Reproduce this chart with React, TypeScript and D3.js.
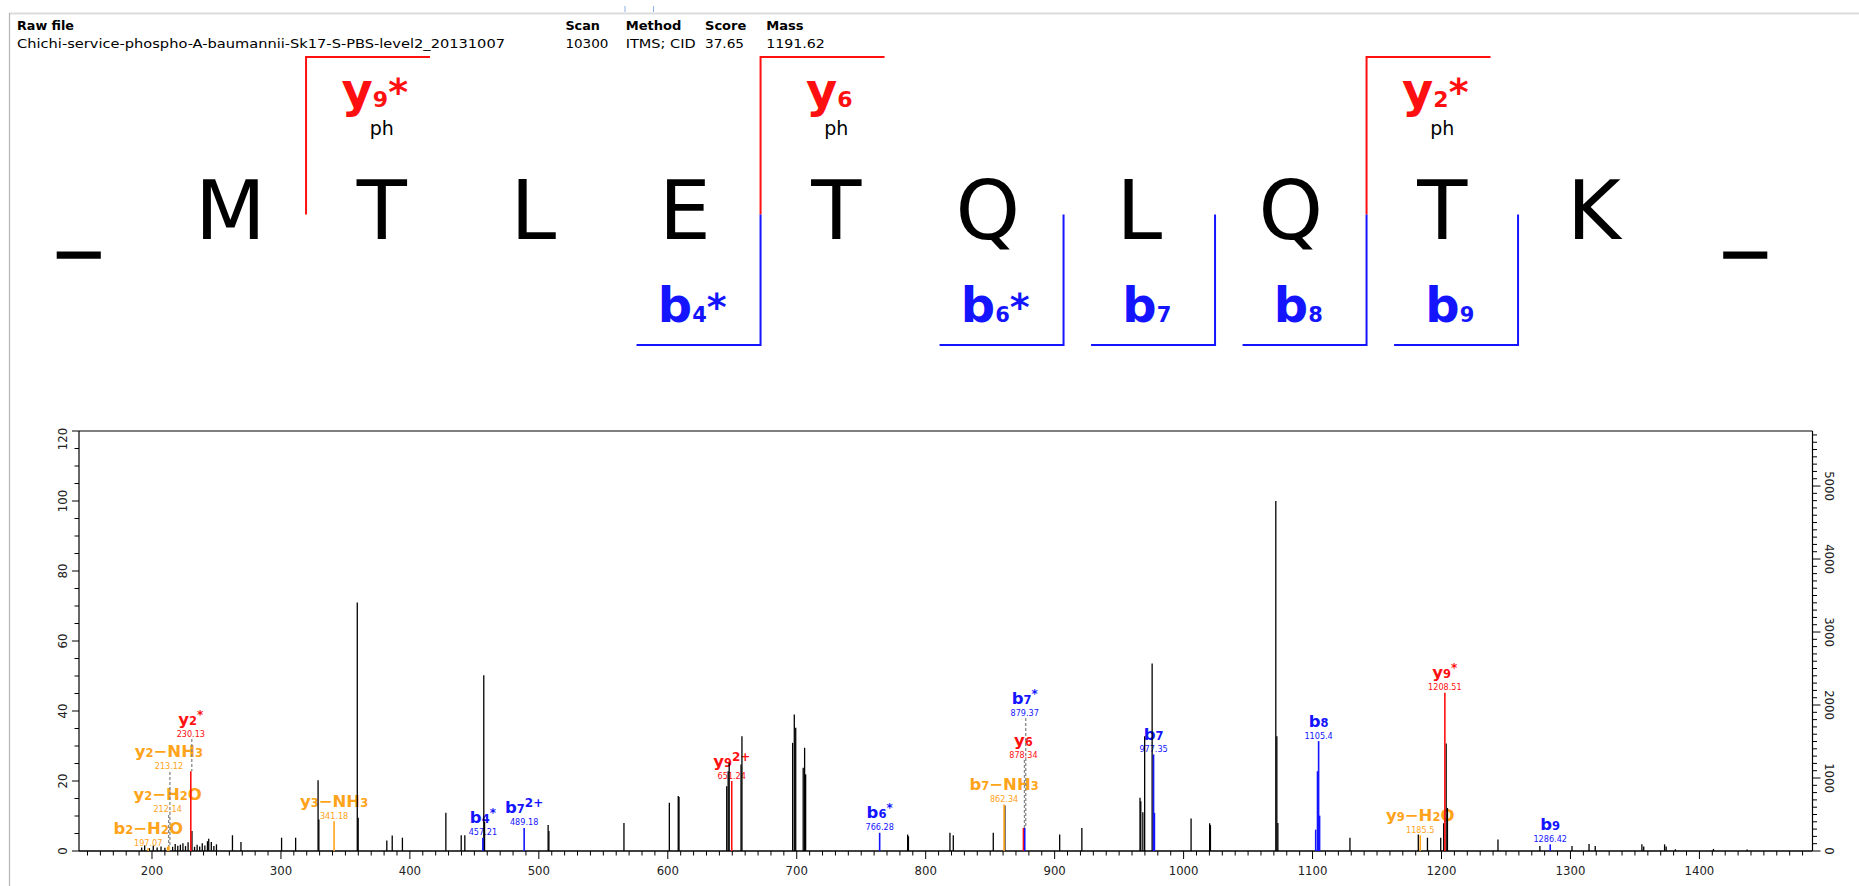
import React from "react";
import * as d3 from "d3";

const W = 1859;
const H = 886;

// ---------- header ----------
const headerLabels = ["Raw file", "Scan", "Method", "Score", "Mass"];
const headerValues = [
  "Chichi-service-phospho-A-baumannii-Sk17-S-PBS-level2_20131007",
  "10300",
  "ITMS; CID",
  "37.65",
  "1191.62",
];

// ---------- sequence ----------
const sequence = ["_", "M", "T", "L", "E", "T", "Q", "L", "Q", "T", "K", "_"];
// bracket after residue index (boundary between index and index+1)
const yIonBrackets = [
  { after: 1, label: "y{9}^{*}", mod: "ph" },
  { after: 4, label: "y{6}", mod: "ph" },
  { after: 8, label: "y{2}^{*}", mod: "ph" },
];
const bIonBrackets = [
  { after: 4, label: "b{4}^{*}" },
  { after: 6, label: "b{6}^{*}" },
  { after: 7, label: "b{7}" },
  { after: 8, label: "b{8}" },
  { after: 9, label: "b{9}" },
];

// ---------- spectrum ----------
const xTicksMajor = [200, 300, 400, 500, 600, 700, 800, 900, 1000, 1100, 1200, 1300, 1400];
const yTicksLeft = [0, 20, 40, 60, 80, 100, 120];
const yTicksRight = [0, 1000, 2000, 3000, 4000, 5000];

// unannotated peaks [m/z, relative intensity %]
const blackPeaks: [number, number][] = [
  [192, 1.0], [194.3, 1.6], [198, 0.8], [201, 1.5], [204, 1.0], [207, 1.3], [210, 0.9],
  [216, 1.2], [218, 2.0], [220, 1.5], [222, 1.8], [224, 2.2], [226, 1.4], [228, 2.5],
  [231, 5.7], [233, 1.2], [235, 1.8], [237, 1.3], [239, 2.2], [241, 1.6], [243, 2.8],
  [244, 3.5], [246, 2.6], [248, 1.4], [250, 1.9],
  [262.4, 4.5], [269, 2.6], [300.5, 3.8], [311.4, 3.8], [328.8, 20.2], [329.4, 9.0],
  [359.2, 71], [359.9, 9.5], [382.1, 3.0], [386.3, 4.4], [394.2, 3.8], [427.9, 10.9],
  [439.8, 4.5], [442.6, 4.5], [457.3, 50.2], [457.9, 8.4], [507.2, 7.4], [507.8, 5.7],
  [566, 8.0], [601.2, 13.8], [608.1, 15.7], [608.7, 15.4], [645.7, 18.5], [646.8, 22.8],
  [647.6, 25.2], [656.8, 24.7], [657.5, 32.8], [696.8, 30.9], [698.1, 39], [699.2, 35.2],
  [705.0, 23.8], [706.1, 29.5], [706.9, 21.9], [786.0, 4.7], [786.6, 4.2], [818.8, 5.2],
  [821.4, 4.5], [852.4, 5.2], [861.4, 13.0], [903.9, 4.7], [921.1, 6.6], [966.2, 15.2],
  [966.8, 14.2], [968.4, 11.1], [969.8, 32.8], [975.6, 53.6], [1005.8, 9.3],
  [1020.2, 7.9], [1020.8, 7.4], [1071.5, 100], [1072.3, 32.8], [1073.1, 8.0],
  [1129, 3.8], [1182, 4.7], [1189.1, 3.8], [1199.4, 3.8], [1201.7, 7.9],
  [1203.6, 30.7], [1204.6, 12.3], [1243.8, 3.3], [1276.3, 1.4], [1301.2, 1.4],
  [1314.4, 2.0], [1319.2, 1.4], [1355.4, 1.9], [1356.8, 1.3], [1373, 1.9],
  [1374.2, 1.3], [1381.4, 0.5], [1410.9, 0.6], [1437, 0.4],
];

// extra coloured isotope lines [m/z, %, kind]
const coloredExtras: [number, number, string][] = [
  [977.4, 10.9, "b"],
  [1102.4, 6.1, "b"],
  [1103.8, 22.8, "b"],
  [1105.5, 10.1, "b"],
];

type Ion = { name: string; mzLabel: string; mz: number; pct: number; kind: string; labelPct?: number };
const annotatedIons: Ion[] = [
  { name: "b{2}\u2212H{2}O", mzLabel: "197.07", mz: 197.07, pct: 0.8, kind: "loss" },
  { name: "y{2}\u2212H{2}O", mzLabel: "212.14", mz: 212.14, pct: 1.2, kind: "loss", labelPct: 10.3 },
  { name: "y{2}\u2212NH{3}", mzLabel: "213.12", mz: 213.12, pct: 1.4, kind: "loss", labelPct: 22.6 },
  { name: "y{2}^{*}", mzLabel: "230.13", mz: 230.1, pct: 22.8, kind: "y", labelPct: 32 },
  { name: "y{3}\u2212NH{3}", mzLabel: "341.18", mz: 341.2, pct: 8.5, kind: "loss" },
  { name: "b{4}^{*}", mzLabel: "457.21", mz: 456.6, pct: 3.8, kind: "b" },
  { name: "b{7}^{2+}", mzLabel: "489.18", mz: 488.6, pct: 6.6, kind: "b" },
  { name: "y{9}^{2+}", mzLabel: "651.24", mz: 649.6, pct: 20, kind: "y" },
  { name: "b{6}^{*}", mzLabel: "766.28", mz: 764.3, pct: 5.2, kind: "b" },
  { name: "b{7}\u2212NH{3}", mzLabel: "862.34", mz: 860.8, pct: 13.3, kind: "loss" },
  { name: "y{6}", mzLabel: "878.34", mz: 875.8, pct: 6.6, kind: "y", labelPct: 26 },
  { name: "b{7}^{*}", mzLabel: "879.37", mz: 876.8, pct: 6.6, kind: "b", labelPct: 38 },
  { name: "b{7}", mzLabel: "977.35", mz: 976.7, pct: 27.6, kind: "b" },
  { name: "b{8}", mzLabel: "1105.4", mz: 1104.7, pct: 31.4, kind: "b" },
  { name: "y{9}\u2212H{2}O", mzLabel: "1185.5", mz: 1183.5, pct: 4.5, kind: "loss" },
  { name: "y{9}^{*}", mzLabel: "1208.51", mz: 1202.6, pct: 45.2, kind: "y" },
  { name: "b{9}", mzLabel: "1286.42", mz: 1284.3, pct: 1.9, kind: "b" },
];

const COLORS: Record<string, string> = { y: "#ff1010", b: "#1414ff", loss: "#ffa31a" };

const SANS = "'DejaVu Sans', Verdana, sans-serif";
const COND = "'DejaVu Sans Condensed', 'Liberation Sans Narrow', 'DejaVu Sans', sans-serif";

type Seg = { t: string; k: "n" | "sub" | "sup" };
function parseLabel(s: string): Seg[] {
  const segs: Seg[] = [];
  let buf = "";
  let i = 0;
  while (i < s.length) {
    if (s[i] === "^" && s[i + 1] === "{") {
      if (buf) segs.push({ t: buf, k: "n" });
      buf = "";
      const j = s.indexOf("}", i);
      segs.push({ t: s.slice(i + 2, j), k: "sup" });
      i = j + 1;
      continue;
    }
    if (s[i] === "{") {
      if (buf) segs.push({ t: buf, k: "n" });
      buf = "";
      const j = s.indexOf("}", i);
      segs.push({ t: s.slice(i + 1, j), k: "sub" });
      i = j + 1;
      continue;
    }
    buf += s[i];
    i++;
  }
  if (buf) segs.push({ t: buf, k: "n" });
  return segs;
}

function IonText(props: {
  x: number; y: number; label: string; fill: string; fs: number; subFs: number; supFs: number;
  supDy: number; supWeight?: string;
}) {
  const { x, y, label, fill, fs, subFs, supFs, supDy, supWeight } = props;
  const segs = parseLabel(label);
  let cur = 0;
  return (
    <text x={x} y={y} textAnchor="middle" fill={fill} fontFamily={SANS} fontWeight="bold">
      {segs.map((s, i) => {
        const target = s.k === "sup" ? supDy : 0;
        const dy = target - cur;
        cur = target;
        return (
          <tspan
            key={i}
            dy={dy}
            fontSize={s.k === "n" ? fs : s.k === "sub" ? subFs : supFs}
            fontWeight={s.k === "sup" ? supWeight || "bold" : "bold"}
          >
            {s.t}
          </tspan>
        );
      })}
    </text>
  );
}

export default function App() {
  // layout
  const plotL = 79, plotR = 1812.5, plotT = 431, plotB = 851;
  const x = d3.scaleLinear().domain([143.4, 1487.7]).range([plotL, plotR]);
  const yL = d3.scaleLinear().domain([0, 120]).range([plotB, plotT]);
  const yR = d3.scaleLinear().domain([0, 5754]).range([plotB, plotT]);
  const seqX = d3.scalePoint<number>().domain(d3.range(sequence.length)).range([78.8, 1745.3]);

  const yTop = 57, yMid = 214.5, yBot = 345, armLen = 124;
  const letterBase = 239;

  const xMinor = d3.range(150, 1490, 10);
  const leftMinor = d3.range(0, 121, 5);
  const rightMinor = d3.range(0, 5754, 100);

  const headerCols = [17, 565.4, 625.7, 705, 766.3];
  const headerLabelW = [57, 34.5, 55.7, 41.3, 37.3];
  const headerValueW = [488, 43, 70, 39, 58.6];

  const boundary = (i: number) => ((seqX(i) as number) + (seqX(i + 1) as number)) / 2;

  return (
    <svg width={W} height={H} style={{ display: "block", position: "absolute", left: 0, top: 0 }}>
      <rect x={0} y={0} width={W} height={H} fill="#fff" />
      {/* window chrome */}
      <line x1={9} x2={W} y1={13.5} y2={13.5} stroke="#dcdcdc" strokeWidth={2} />
      <line x1={9.5} x2={9.5} y1={13} y2={H} stroke="#b4b4b4" strokeWidth={1.2} />
      <line x1={625} x2={625} y1={6} y2={12} stroke="#8fb0e0" strokeWidth={1} />
      <line x1={653.5} x2={653.5} y1={6} y2={12} stroke="#8fb0e0" strokeWidth={1} />

      {/* header */}
      {headerLabels.map((t, i) => (
        <text key={"hl" + i} x={headerCols[i]} y={30} fontFamily={COND} fontWeight="bold" fontSize={12.5}
          textLength={headerLabelW[i]} lengthAdjust="spacingAndGlyphs">{t}</text>
      ))}
      {headerValues.map((t, i) => (
        <text key={"hv" + i} x={headerCols[i]} y={48} fontFamily={COND} fontSize={12.5}
          textLength={headerValueW[i]} lengthAdjust="spacingAndGlyphs">{t}</text>
      ))}

      {/* sequence letters */}
      {sequence.map((s, i) => (
        <text key={"s" + i} x={seqX(i)} y={letterBase} textAnchor="middle" fontFamily={SANS} fontSize={82}
          fill="#000" stroke={s === "_" ? "#000" : "none"} strokeWidth={s === "_" ? 1.5 : 0}>
          {s}
        </text>
      ))}

      {/* y-ion brackets */}
      {yIonBrackets.map((b, i) => {
        const bx = boundary(b.after);
        const lx = seqX(b.after + 1) as number;
        return (
          <g key={"yb" + i}>
            <path d={`M${bx},${yMid}V${yTop}H${bx + armLen}`} fill="none" stroke={COLORS.y} strokeWidth={2} />
            <IonText x={lx - 7} y={106.5} label={b.label} fill={COLORS.y} fs={48} subFs={22} supFs={38} supDy={-2} supWeight="bold" />
            <text x={lx} y={135} textAnchor="middle" fontFamily={SANS} fontSize={19} fill="#000">{b.mod}</text>
          </g>
        );
      })}
      {/* b-ion brackets */}
      {bIonBrackets.map((b, i) => {
        const bx = boundary(b.after);
        const lx = seqX(b.after) as number;
        return (
          <g key={"bb" + i}>
            <path d={`M${bx},${yMid}V${yBot}H${bx - armLen}`} fill="none" stroke={COLORS.b} strokeWidth={2} />
            <IonText x={lx + 7.5} y={321.5} label={b.label} fill={COLORS.b} fs={48} subFs={21} supFs={38} supDy={-2} supWeight="bold" />
          </g>
        );
      })}

      {/* plot frame */}
      <line x1={plotL} x2={plotR} y1={plotT} y2={plotT} stroke="#000" strokeWidth={1.2} />
      <line x1={plotL} x2={plotL} y1={plotT} y2={plotB} stroke="#000" strokeWidth={1.2} />
      <line x1={plotR} x2={plotR} y1={plotT} y2={plotB} stroke="#000" strokeWidth={1.2} />
      <line x1={plotL} x2={plotR} y1={plotB} y2={plotB} stroke="#000" strokeWidth={1.4} />

      {/* x ticks */}
      {xMinor.map((m) => {
        const major = m % 100 === 0;
        return <line key={"xt" + m} x1={x(m)} x2={x(m)} y1={plotB} y2={plotB + (major ? 8 : 4.5)} stroke="#000" strokeWidth={1} />;
      })}
      {xTicksMajor.map((m) => (
        <text key={"xl" + m} x={x(m)} y={875} textAnchor="middle" fontFamily={COND} fontSize={13} fill="#222">{m}</text>
      ))}

      {/* left ticks */}
      {leftMinor.map((v) => {
        const major = v % 20 === 0;
        return <line key={"lt" + v} x1={plotL - (major ? 7 : 4.5)} x2={plotL} y1={yL(v)} y2={yL(v)} stroke="#000" strokeWidth={1} />;
      })}
      {yTicksLeft.map((v) => (
        <text key={"ll" + v} x={0} y={0} transform={`translate(62,${v === 120 ? yL(v) + 8 : yL(v)}) rotate(-90)`}
          textAnchor="middle" dominantBaseline="central" fontFamily={COND} fontSize={13} fill="#222">{v}</text>
      ))}

      {/* right ticks */}
      {rightMinor.map((v) => {
        const major = v % 1000 === 0;
        return <line key={"rt" + v} x1={plotR} x2={plotR + (major ? 8 : 4.5)} y1={yR(v)} y2={yR(v)} stroke="#000" strokeWidth={1} />;
      })}
      {yTicksRight.map((v) => (
        <text key={"rl" + v} x={0} y={0} transform={`translate(1829,${yR(v)}) rotate(90)`}
          textAnchor="middle" dominantBaseline="central" fontFamily={COND} fontSize={13} fill="#222">{v}</text>
      ))}

      {/* labels */}
      {annotatedIons.map((ion, i) => {
        const px = x(ion.mz);
        const base = yL(ion.labelPct ?? ion.pct);
        const numY = base - 2.5;
        const nameY = numY - 12;
        const c = COLORS[ion.kind];
        return (
          <g key={"lab" + i}>
            <IonText x={px} y={nameY} label={ion.name} fill={c} fs={16.5} subFs={11.5} supFs={12} supDy={-6} />
            <text x={px} y={numY} textAnchor="middle" fontFamily={COND} fontSize={9} fill={c}>{ion.mzLabel}</text>
          </g>
        );
      })}
      {/* dashed connectors */}
      {annotatedIons.filter((d) => d.labelPct !== undefined).map((ion, i) => (
        <line key={"dash" + i} x1={x(ion.mz) + 1} x2={x(ion.mz) + 1} y1={yL(ion.labelPct as number)} y2={yL(ion.pct)}
          stroke="#888" strokeWidth={1.3} strokeDasharray="3,2" />
      ))}

      {/* black peaks */}
      {blackPeaks.map(([m, p], i) => (
        <line key={"bp" + i} x1={x(m)} x2={x(m)} y1={plotB} y2={yL(p)} stroke="#000" strokeWidth={1.3} />
      ))}
      {/* coloured peaks */}
      {coloredExtras.map(([m, p, k], i) => (
        <line key={"ce" + i} x1={x(m)} x2={x(m)} y1={plotB} y2={yL(p)} stroke={COLORS[k]} strokeWidth={1.5} />
      ))}
      {annotatedIons.map((ion, i) => (
        <line key={"ap" + i} x1={x(ion.mz)} x2={x(ion.mz)} y1={plotB} y2={yL(ion.pct)} stroke={COLORS[ion.kind]} strokeWidth={1.6} />
      ))}
    </svg>
  );
}
